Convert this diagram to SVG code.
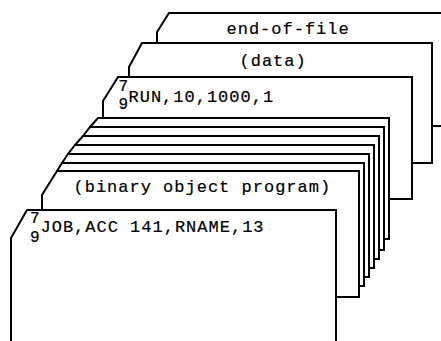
<svg xmlns="http://www.w3.org/2000/svg" width="441" height="341" viewBox="0 0 441 341">
<style>
.card{fill:#fff;stroke:#000;stroke-width:2;stroke-linejoin:miter}
.t{font-family:"Liberation Mono",monospace;font-size:17px;letter-spacing:1px;fill:#000;stroke:#000;stroke-width:0.2}
.s{font-family:"Liberation Mono",monospace;font-size:16px;fill:#000;stroke:#000;stroke-width:0.2}
</style>
<rect width="441" height="341" fill="#fff"/>
<g id="card-eof">
<polygon class="card" points="169,13 450,13 450,126 157,126 157,32"/>
<text class="t" x="226.5" y="34">end-of-file</text>
</g>
<g id="card-data">
<polygon class="card" points="142,43 432,43 432,163 129,163 129,67"/>
<text class="t" x="239.5" y="66">(data)</text>
</g>
<g id="card-run">
<polygon class="card" points="118,77 412,77 412,199 103,199 103,101"/>
<text class="s" x="118.5" y="91">7</text>
<text class="s" x="118.5" y="109">9</text>
<text class="t" x="128.5" y="102">RUN,10,1000,1</text>
</g>
<g id="card-stack-1"><polygon class="card" points="98,118 389,118 389,239 90,239 90,127"/></g>
<g id="card-stack-2"><polygon class="card" points="90,127 384,127 384,250 83,250 83,136"/></g>
<g id="card-stack-3"><polygon class="card" points="83,136 379,136 379,259 75,259 75,145"/></g>
<g id="card-stack-4"><polygon class="card" points="75,145 374,145 374,268 68,268 68,154"/></g>
<g id="card-stack-5"><polygon class="card" points="68,154 369,154 369,277 62,277 62,163"/></g>
<g id="card-stack-6"><polygon class="card" points="62,163 364,163 364,286 57,286 57,171"/></g>
<g id="card-binary">
<polygon class="card" points="57,171 359,171 359,297 42,297 42,195"/>
<text class="t" x="73.5" y="192">(binary object program)</text>
</g>
<g id="card-job">
<polygon class="card" points="27,210 336,210 336,352 11,352 11,238"/>
<text class="s" x="30" y="223">7</text>
<text class="s" x="30" y="242">9</text>
<text class="t" x="40.5" y="232">JOB,ACC 141,RNAME,13</text>
</g>
</svg>
